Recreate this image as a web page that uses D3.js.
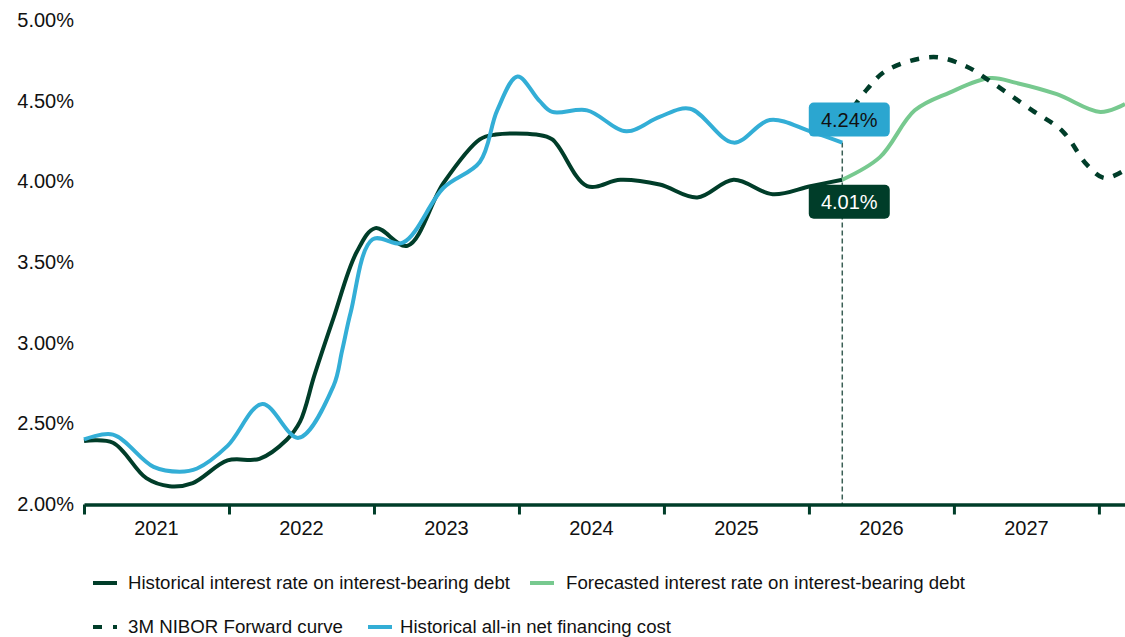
<!DOCTYPE html>
<html>
<head>
<meta charset="utf-8">
<script src="https://cdn.jsdelivr.net/npm/d3@7"></script>
<style>
  html, body { margin: 0; padding: 0; background: #ffffff; }
  svg { display: block; font-family: "Liberation Sans", Arial, sans-serif; }
</style>
</head>
<body>
<svg id="chart" width="1125" height="637"></svg>
<script>
// Time is expressed as decimal years; values are percent.
const yearLabels = [2021, 2022, 2023, 2024, 2025, 2026, 2027];
const yearBoundaries = [2021, 2022, 2023, 2024, 2025, 2026, 2027, 2028];
const yTicks = [2.0, 2.5, 3.0, 3.5, 4.0, 4.5, 5.0];

// Historical interest rate on interest-bearing debt
const debtTimes = [2021.00, 2021.20, 2021.43, 2021.59, 2021.75, 2021.99, 2022.21, 2022.40, 2022.49,
  2022.59, 2022.72, 2022.88, 2023.01, 2023.23, 2023.48, 2023.73, 2023.84, 2024.12, 2024.23,
  2024.47, 2024.70, 2024.97, 2025.23, 2025.48, 2025.75, 2026.01, 2026.23];
const debtValues = [2.39, 2.38, 2.16, 2.11, 2.13, 2.27, 2.28, 2.40, 2.51,
  2.80, 3.15, 3.56, 3.71, 3.60, 3.99, 4.26, 4.29, 4.29, 4.26,
  3.97, 4.01, 3.98, 3.90, 4.01, 3.92, 3.97, 4.01];

// Historical all-in net financing cost
const costTimes = [2021.00, 2021.20, 2021.48, 2021.66, 2021.78, 2021.99, 2022.23, 2022.48, 2022.72,
  2022.78, 2022.84, 2022.99, 2023.20, 2023.48, 2023.73, 2023.85, 2023.99, 2024.14, 2024.23,
  2024.47, 2024.74, 2024.97, 2025.18, 2025.48, 2025.73, 2026.01, 2026.23];
const costValues = [2.40, 2.43, 2.23, 2.20, 2.22, 2.36, 2.62, 2.41, 2.73,
  2.95, 3.19, 3.64, 3.62, 3.96, 4.12, 4.44, 4.65, 4.50, 4.43,
  4.44, 4.31, 4.40, 4.45, 4.24, 4.38, 4.31, 4.24];

// Forecasted interest rate on interest-bearing debt
const forecastTimes = [2026.23, 2026.49, 2026.73, 2026.97, 2027.25, 2027.43, 2027.71, 2028.01, 2028.18];
const forecastValues = [4.01, 4.15, 4.44, 4.55, 4.64, 4.61, 4.54, 4.43, 4.48];

// 3M NIBOR Forward curve
const niborTimes = [2026.23, 2026.40, 2026.54, 2026.86, 2027.09, 2027.25, 2027.54, 2027.75,
  2027.92, 2028.04, 2028.18];
const niborValues = [4.36, 4.57, 4.69, 4.77, 4.71, 4.62, 4.44, 4.31,
  4.10, 4.02, 4.07];

const legendLabels = [
  "Historical interest rate on interest-bearing debt",
  "Forecasted interest rate on interest-bearing debt",
  "3M NIBOR Forward curve",
  "Historical all-in net financing cost"
];

const C = {
  dark: "#003d29",
  blue: "#33aed6",
  blueLabel: "#2ba6d0",
  green: "#77c98f",
  text: "#111111",
  guide: "#3b5f55"
};

const svg = d3.select("#chart");

const x = d3.scaleLinear().domain([2021, 2028.18]).range([84, 1125]);
const y = d3.scaleLinear().domain([2, 5]).range([504, 20]);

const zip = (ts, vs) => ts.map((t, i) => ({ t, v: vs[i] }));
const debt = zip(debtTimes, debtValues);
const cost = zip(costTimes, costValues);
const forecast = zip(forecastTimes, forecastValues);
const nibor = zip(niborTimes, niborValues);

const line = d3.line().x(d => x(d.t)).y(d => y(d.v)).curve(d3.curveCatmullRom.alpha(0.5));

// Y axis labels
const yAxis = d3.axisLeft(y)
  .tickValues(yTicks)
  .tickSize(0)
  .tickPadding(0)
  .tickFormat(d => d.toFixed(2) + "%");
const gy = svg.append("g").attr("transform", "translate(74,0)").call(yAxis);
gy.select(".domain").remove();
gy.selectAll("text")
  .attr("fill", C.text)
  .style("font-size", "20px")
  .style("font-family", "'Liberation Sans', Arial, sans-serif");

// Vertical marker at the last historical observation
const lastT = debtTimes[debtTimes.length - 1];
svg.append("line")
  .attr("x1", x(lastT)).attr("x2", x(lastT))
  .attr("y1", y(costValues[costValues.length - 1])).attr("y2", y(2))
  .attr("stroke", C.guide)
  .attr("stroke-width", 1.5)
  .attr("stroke-dasharray", "5,3");

// X axis: year boundaries as ticks, year names centred between
const xAxis = d3.axisBottom(x)
  .tickValues(yearBoundaries)
  .tickSize(10)
  .tickSizeOuter(0)
  .tickFormat("");
const gx = svg.append("g").attr("transform", "translate(0,504.5)").call(xAxis);
gx.select(".domain").attr("stroke", C.dark).attr("stroke-width", 3.5);
gx.selectAll(".tick line").attr("stroke", C.dark).attr("stroke-width", 3);

svg.append("g").selectAll("text")
  .data(yearLabels)
  .join("text")
  .attr("x", d => x(d + 0.5))
  .attr("y", 535)
  .attr("text-anchor", "middle")
  .attr("fill", C.text)
  .style("font-size", "20px")
  .text(d => d);

// Series
const plot = svg.append("g");
plot.append("path").datum(debt)
  .attr("d", line).attr("fill", "none")
  .attr("stroke", C.dark).attr("stroke-width", 4).attr("stroke-linejoin", "round");
plot.append("path").datum(cost)
  .attr("d", line).attr("fill", "none")
  .attr("stroke", C.blue).attr("stroke-width", 4).attr("stroke-linejoin", "round");
plot.append("path").datum(forecast)
  .attr("d", line).attr("fill", "none")
  .attr("stroke", C.green).attr("stroke-width", 4).attr("stroke-linejoin", "round");
plot.append("path").datum(nibor)
  .attr("d", line).attr("fill", "none")
  .attr("stroke", C.dark).attr("stroke-width", 4.5)
  .attr("stroke-dasharray", "9,10");

// Value call-outs at the last historical point
function callout(t, v, fill, textColor, above) {
  const w = 81, h = 34;
  const cx = x(t) + 7;
  const top = above ? y(v) - 6 - h : y(v) + 5;
  const g = svg.append("g");
  g.append("rect")
    .attr("x", cx - w / 2).attr("y", top)
    .attr("width", w).attr("height", h)
    .attr("rx", 5).attr("ry", 5)
    .attr("fill", fill);
  g.append("text")
    .attr("x", cx).attr("y", top + h / 2)
    .attr("dy", "0.35em")
    .attr("text-anchor", "middle")
    .attr("fill", textColor)
    .style("font-size", "20px")
    .text(v.toFixed(2) + "%");
}
callout(lastT, costValues[costValues.length - 1], C.blueLabel, "#111111", true);
callout(lastT, debtValues[debtValues.length - 1], C.dark, "#ffffff", false);

// Legend
const legendItems = [
  { label: legendLabels[0], color: C.dark, dash: null, sx: 93, tx: 128, tw: 382, row: 583 },
  { label: legendLabels[1], color: C.green, dash: null, sx: 530, tx: 566, tw: 399, row: 583 },
  { label: legendLabels[2], color: C.dark, dash: "9,11", sx: 93, tx: 128, tw: 215, row: 627 },
  { label: legendLabels[3], color: C.blue, dash: null, sx: 368, tx: 400, tw: 271, row: 627 }
];
const lg = svg.append("g").selectAll("g").data(legendItems).join("g");
lg.append("line")
  .attr("x1", d => d.sx).attr("x2", d => d.sx + 24)
  .attr("y1", d => d.row).attr("y2", d => d.row)
  .attr("stroke", d => d.color)
  .attr("stroke-width", 4)
  .attr("stroke-dasharray", d => d.dash);
lg.append("text")
  .attr("x", d => d.tx).attr("y", d => d.row)
  .attr("dy", "0.36em")
  .attr("fill", C.text)
  .attr("textLength", d => d.tw)
  .attr("lengthAdjust", "spacingAndGlyphs")
  .style("font-size", "17.5px")
  .text(d => d.label);
</script>
</body>
</html>
